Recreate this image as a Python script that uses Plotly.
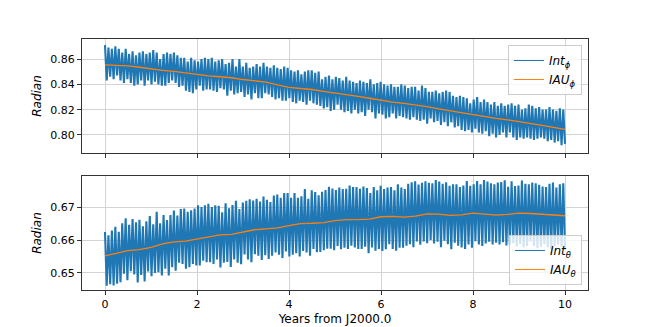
import numpy as np
import plotly.graph_objects as go
from plotly.subplots import make_subplots

# Colours (matplotlib defaults)
color_blue = '#1f77b4'
color_orange = '#ff7f0e'
font_family = 'DejaVu Sans'

# Integrated rotation angles, sampled roughly every 2 weeks over 10 years
phi_int = [
    0.871, 0.843, 0.869, 0.846, 0.868, 0.844, 0.870, 0.847, 0.868, 0.843,
    0.865, 0.841, 0.868, 0.844, 0.864, 0.841, 0.866, 0.839, 0.863, 0.840,
    0.865, 0.843, 0.866, 0.839, 0.864, 0.843, 0.865, 0.840, 0.867, 0.842,
    0.865, 0.840, 0.860, 0.839, 0.864, 0.839, 0.865, 0.841, 0.864, 0.843,
    0.865, 0.841, 0.863, 0.838, 0.861, 0.839, 0.861, 0.835, 0.858, 0.834,
    0.861, 0.833, 0.859, 0.836, 0.858, 0.839, 0.860, 0.835, 0.861, 0.836,
    0.860, 0.836, 0.861, 0.835, 0.858, 0.834, 0.859, 0.837, 0.860, 0.836,
    0.856, 0.831, 0.857, 0.835, 0.860, 0.832, 0.854, 0.833, 0.860, 0.834,
    0.854, 0.830, 0.857, 0.832, 0.853, 0.828, 0.854, 0.833, 0.856, 0.829,
    0.854, 0.829, 0.857, 0.833, 0.854, 0.832, 0.853, 0.830, 0.855, 0.828,
    0.853, 0.829, 0.852, 0.827, 0.854, 0.827, 0.853, 0.829, 0.851, 0.826,
    0.850, 0.825, 0.851, 0.827, 0.848, 0.826, 0.850, 0.824, 0.851, 0.827,
    0.851, 0.825, 0.849, 0.824, 0.850, 0.823, 0.844, 0.821, 0.846, 0.822,
    0.847, 0.819, 0.844, 0.820, 0.846, 0.824, 0.845, 0.820, 0.843, 0.818,
    0.846, 0.819, 0.843, 0.817, 0.842, 0.820, 0.841, 0.817, 0.843, 0.818,
    0.842, 0.815, 0.841, 0.820, 0.844, 0.818, 0.840, 0.813, 0.841, 0.817,
    0.842, 0.816, 0.840, 0.813, 0.839, 0.814, 0.840, 0.817, 0.838, 0.813,
    0.838, 0.815, 0.840, 0.814, 0.839, 0.813, 0.837, 0.812, 0.838, 0.814,
    0.838, 0.812, 0.835, 0.811, 0.839, 0.812, 0.837, 0.809, 0.834, 0.813,
    0.834, 0.810, 0.835, 0.811, 0.833, 0.808, 0.834, 0.810, 0.835, 0.807,
    0.834, 0.810, 0.831, 0.806, 0.830, 0.807, 0.831, 0.804, 0.830, 0.803,
    0.829, 0.804, 0.825, 0.802, 0.828, 0.805, 0.830, 0.802, 0.826, 0.801,
    0.828, 0.803, 0.826, 0.799, 0.824, 0.801, 0.826, 0.798, 0.823, 0.800,
    0.825, 0.802, 0.823, 0.798, 0.824, 0.802, 0.825, 0.798, 0.823, 0.796,
    0.824, 0.798, 0.820, 0.797, 0.821, 0.798, 0.824, 0.797, 0.823, 0.796,
    0.821, 0.797, 0.822, 0.798, 0.820, 0.797, 0.820, 0.795, 0.822, 0.796,
    0.820, 0.794, 0.819, 0.795, 0.821, 0.792, 0.820, 0.793,
]

theta_int = [
    0.6625, 0.6460, 0.6615, 0.6465, 0.6630, 0.6461, 0.6641, 0.6466, 0.6626, 0.6471,
    0.6652, 0.6497, 0.6667, 0.6477, 0.6647, 0.6505, 0.6665, 0.6495, 0.6655, 0.6470,
    0.6663, 0.6493, 0.6643, 0.6473, 0.6658, 0.6504, 0.6674, 0.6489, 0.6649, 0.6499,
    0.6687, 0.6502, 0.6652, 0.6492, 0.6677, 0.6512, 0.6662, 0.6492, 0.6677, 0.6517,
    0.6691, 0.6506, 0.6676, 0.6531, 0.6696, 0.6527, 0.6697, 0.6512, 0.6687, 0.6517,
    0.6692, 0.6527, 0.6697, 0.6522, 0.6707, 0.6522, 0.6702, 0.6537, 0.6707, 0.6532,
    0.6712, 0.6532, 0.6702, 0.6527, 0.6707, 0.6541, 0.6706, 0.6516, 0.6686, 0.6531,
    0.6713, 0.6533, 0.6698, 0.6518, 0.6708, 0.6541, 0.6721, 0.6531, 0.6696, 0.6526,
    0.6716, 0.6556, 0.6721, 0.6541, 0.6726, 0.6532, 0.6722, 0.6557, 0.6727, 0.6552,
    0.6719, 0.6539, 0.6734, 0.6554, 0.6724, 0.6542, 0.6717, 0.6552, 0.6737, 0.6562,
    0.6740, 0.6555, 0.6730, 0.6545, 0.6745, 0.6565, 0.6745, 0.6550, 0.6730, 0.6555,
    0.6745, 0.6560, 0.6730, 0.6550, 0.6735, 0.6567, 0.6757, 0.6562, 0.6727, 0.6552,
    0.6753, 0.6573, 0.6748, 0.6563, 0.6738, 0.6564, 0.6749, 0.6569, 0.6754, 0.6574,
    0.6764, 0.6574, 0.6759, 0.6569, 0.6754, 0.6582, 0.6762, 0.6572, 0.6757, 0.6577,
    0.6758, 0.6573, 0.6768, 0.6583, 0.6763, 0.6578, 0.6763, 0.6573, 0.6758, 0.6573,
    0.6765, 0.6580, 0.6760, 0.6560, 0.6745, 0.6578, 0.6763, 0.6568, 0.6753, 0.6573,
    0.6767, 0.6567, 0.6757, 0.6572, 0.6762, 0.6588, 0.6763, 0.6573, 0.6753, 0.6568,
    0.6772, 0.6577, 0.6762, 0.6577, 0.6757, 0.6583, 0.6773, 0.6588, 0.6778, 0.6578,
    0.6781, 0.6596, 0.6771, 0.6586, 0.6776, 0.6596, 0.6781, 0.6591, 0.6776, 0.6601,
    0.6775, 0.6590, 0.6785, 0.6595, 0.6780, 0.6578, 0.6773, 0.6598, 0.6778, 0.6588,
    0.6767, 0.6572, 0.6772, 0.6592, 0.6772, 0.6583, 0.6763, 0.6578, 0.6768, 0.6573,
    0.6782, 0.6587, 0.6767, 0.6577, 0.6772, 0.6597, 0.6782, 0.6587, 0.6772, 0.6582,
    0.6785, 0.6590, 0.6780, 0.6595, 0.6775, 0.6587, 0.6772, 0.6592, 0.6777, 0.6587,
    0.6779, 0.6594, 0.6784, 0.6584, 0.6764, 0.6586, 0.6781, 0.6591, 0.6766, 0.6581,
    0.6768, 0.6588, 0.6783, 0.6578, 0.6773, 0.6582, 0.6772, 0.6597, 0.6777, 0.6582,
    0.6775, 0.6575, 0.6770, 0.6580, 0.6765, 0.6588, 0.6763, 0.6578, 0.6773, 0.6573,
    0.6777, 0.6582, 0.6762, 0.6587, 0.6772, 0.6580, 0.6775, 0.6570,
]

# IAU model angles, every quarter year
iau_years = [0.0, 0.25, 0.5, 0.75, 1.0, 1.25, 1.5, 1.75, 2.0, 2.25, 2.5,
             2.75, 3.0, 3.25, 3.5, 3.75, 4.0, 4.25, 4.5, 4.75, 5.0,
             5.25, 5.5, 5.75, 6.0, 6.25, 6.5, 6.75, 7.0, 7.25, 7.5,
             7.75, 8.0, 8.25, 8.5, 8.75, 9.0, 9.25, 9.5, 9.75, 10.0]
phi_iau = [0.8553, 0.8551, 0.8546, 0.8535, 0.8520, 0.8510, 0.8503, 0.8492, 0.8476, 0.8466, 0.8460,
           0.8452, 0.8438, 0.8428, 0.8418, 0.8395, 0.8376, 0.8367, 0.8359, 0.8345, 0.8333,
           0.8321, 0.8305, 0.8290, 0.8272, 0.8259, 0.8249, 0.8238, 0.8224, 0.8207, 0.8191,
           0.8175, 0.8157, 0.8142, 0.8131, 0.8120, 0.8107, 0.8092, 0.8075, 0.8060, 0.8045]
theta_iau = [0.6552, 0.6561, 0.6568, 0.6571, 0.6578, 0.6589, 0.6595, 0.6597, 0.6603, 0.6611, 0.6616,
             0.6618, 0.6624, 0.6632, 0.6635, 0.6638, 0.6645, 0.6651, 0.6652, 0.6654, 0.6660,
             0.6663, 0.6663, 0.6665, 0.6672, 0.6673, 0.6671, 0.6674, 0.6681, 0.6680, 0.6676,
             0.6678, 0.6683, 0.6681, 0.6677, 0.6679, 0.6683, 0.6682, 0.6679, 0.6677, 0.6675]

# uniform sampling times for the integrated series
int_years = np.linspace(0, 10, len(phi_int))

fig = make_subplots(rows=2, cols=1, shared_xaxes=True, vertical_spacing=0.092)


def add_panel(row, y_int, y_iau, sym, legend_id):
    # data traces (thick blue so the fast oscillation reads as a band)
    fig.add_trace(go.Scatter(x=int_years, y=y_int, mode='lines', showlegend=False,
                             line=dict(color=color_blue, width=2.1)), row=row, col=1)
    fig.add_trace(go.Scatter(x=iau_years, y=y_iau, mode='lines', showlegend=False,
                             line=dict(color=color_orange, width=1.3)), row=row, col=1)
    # thin legend-only entries, like the matplotlib legend handles
    for label, color in [('Int', color_blue), ('IAU', color_orange)]:
        fig.add_trace(go.Scatter(x=[None], y=[None], mode='lines', legend=legend_id,
                                 name=f'<i>{label}</i><sub><i>{sym}</i></sub>',
                                 line=dict(color=color, width=1)), row=row, col=1)


add_panel(1, phi_int, phi_iau, 'ϕ', 'legend')
add_panel(2, theta_int, theta_iau, 'θ', 'legend2')

axis_style = dict(
    showline=True, mirror=True, linecolor='#333333', linewidth=1,
    showgrid=True, gridcolor='#d3d3d3', gridwidth=1,
    ticks='outside', ticklen=4, tickcolor='#333333',
    tickfont=dict(size=11, color='black'), zeroline=False, automargin=False,
)
fig.update_xaxes(**axis_style, range=[-0.5, 10.5], tickvals=[0, 2, 4, 6, 8, 10])
fig.update_xaxes(showticklabels=False, row=1, col=1)
fig.update_xaxes(title=dict(text='Years from J2000.0', font=dict(size=12, color='black'), standoff=4),
                 row=2, col=1)

fig.update_yaxes(**axis_style)
fig.update_yaxes(range=[0.7858, 0.8758], tickvals=[0.80, 0.82, 0.84, 0.86], tickformat='.2f',
                 title=dict(text='<i>Radian</i>', font=dict(size=12, color='black'), standoff=6),
                 row=1, col=1)
fig.update_yaxes(range=[0.6447, 0.6797], tickvals=[0.65, 0.66, 0.67], tickformat='.2f',
                 title=dict(text='<i>Radian</i>', font=dict(size=12, color='black'), standoff=6),
                 row=2, col=1)

legend_style = dict(bgcolor='rgba(255,255,255,0.8)', bordercolor='#cccccc', borderwidth=1,
                    font=dict(size=12, color='black'), itemwidth=30, xanchor='right', x=0.988,
                    tracegroupgap=0)

# the page body adds an 8px offset, so the figure is drawn 8px smaller
fig.update_layout(
    width=646, height=319,
    paper_bgcolor='white', plot_bgcolor='white',
    font=dict(family=font_family, color='black'),
    margin=dict(l=74, r=66, t=31, b=37),
    showlegend=True,
    legend=dict(**legend_style, yanchor='top', y=0.976),
    legend2=dict(**legend_style, yanchor='bottom', y=0.02),
)

fig.write_html("out.html")
